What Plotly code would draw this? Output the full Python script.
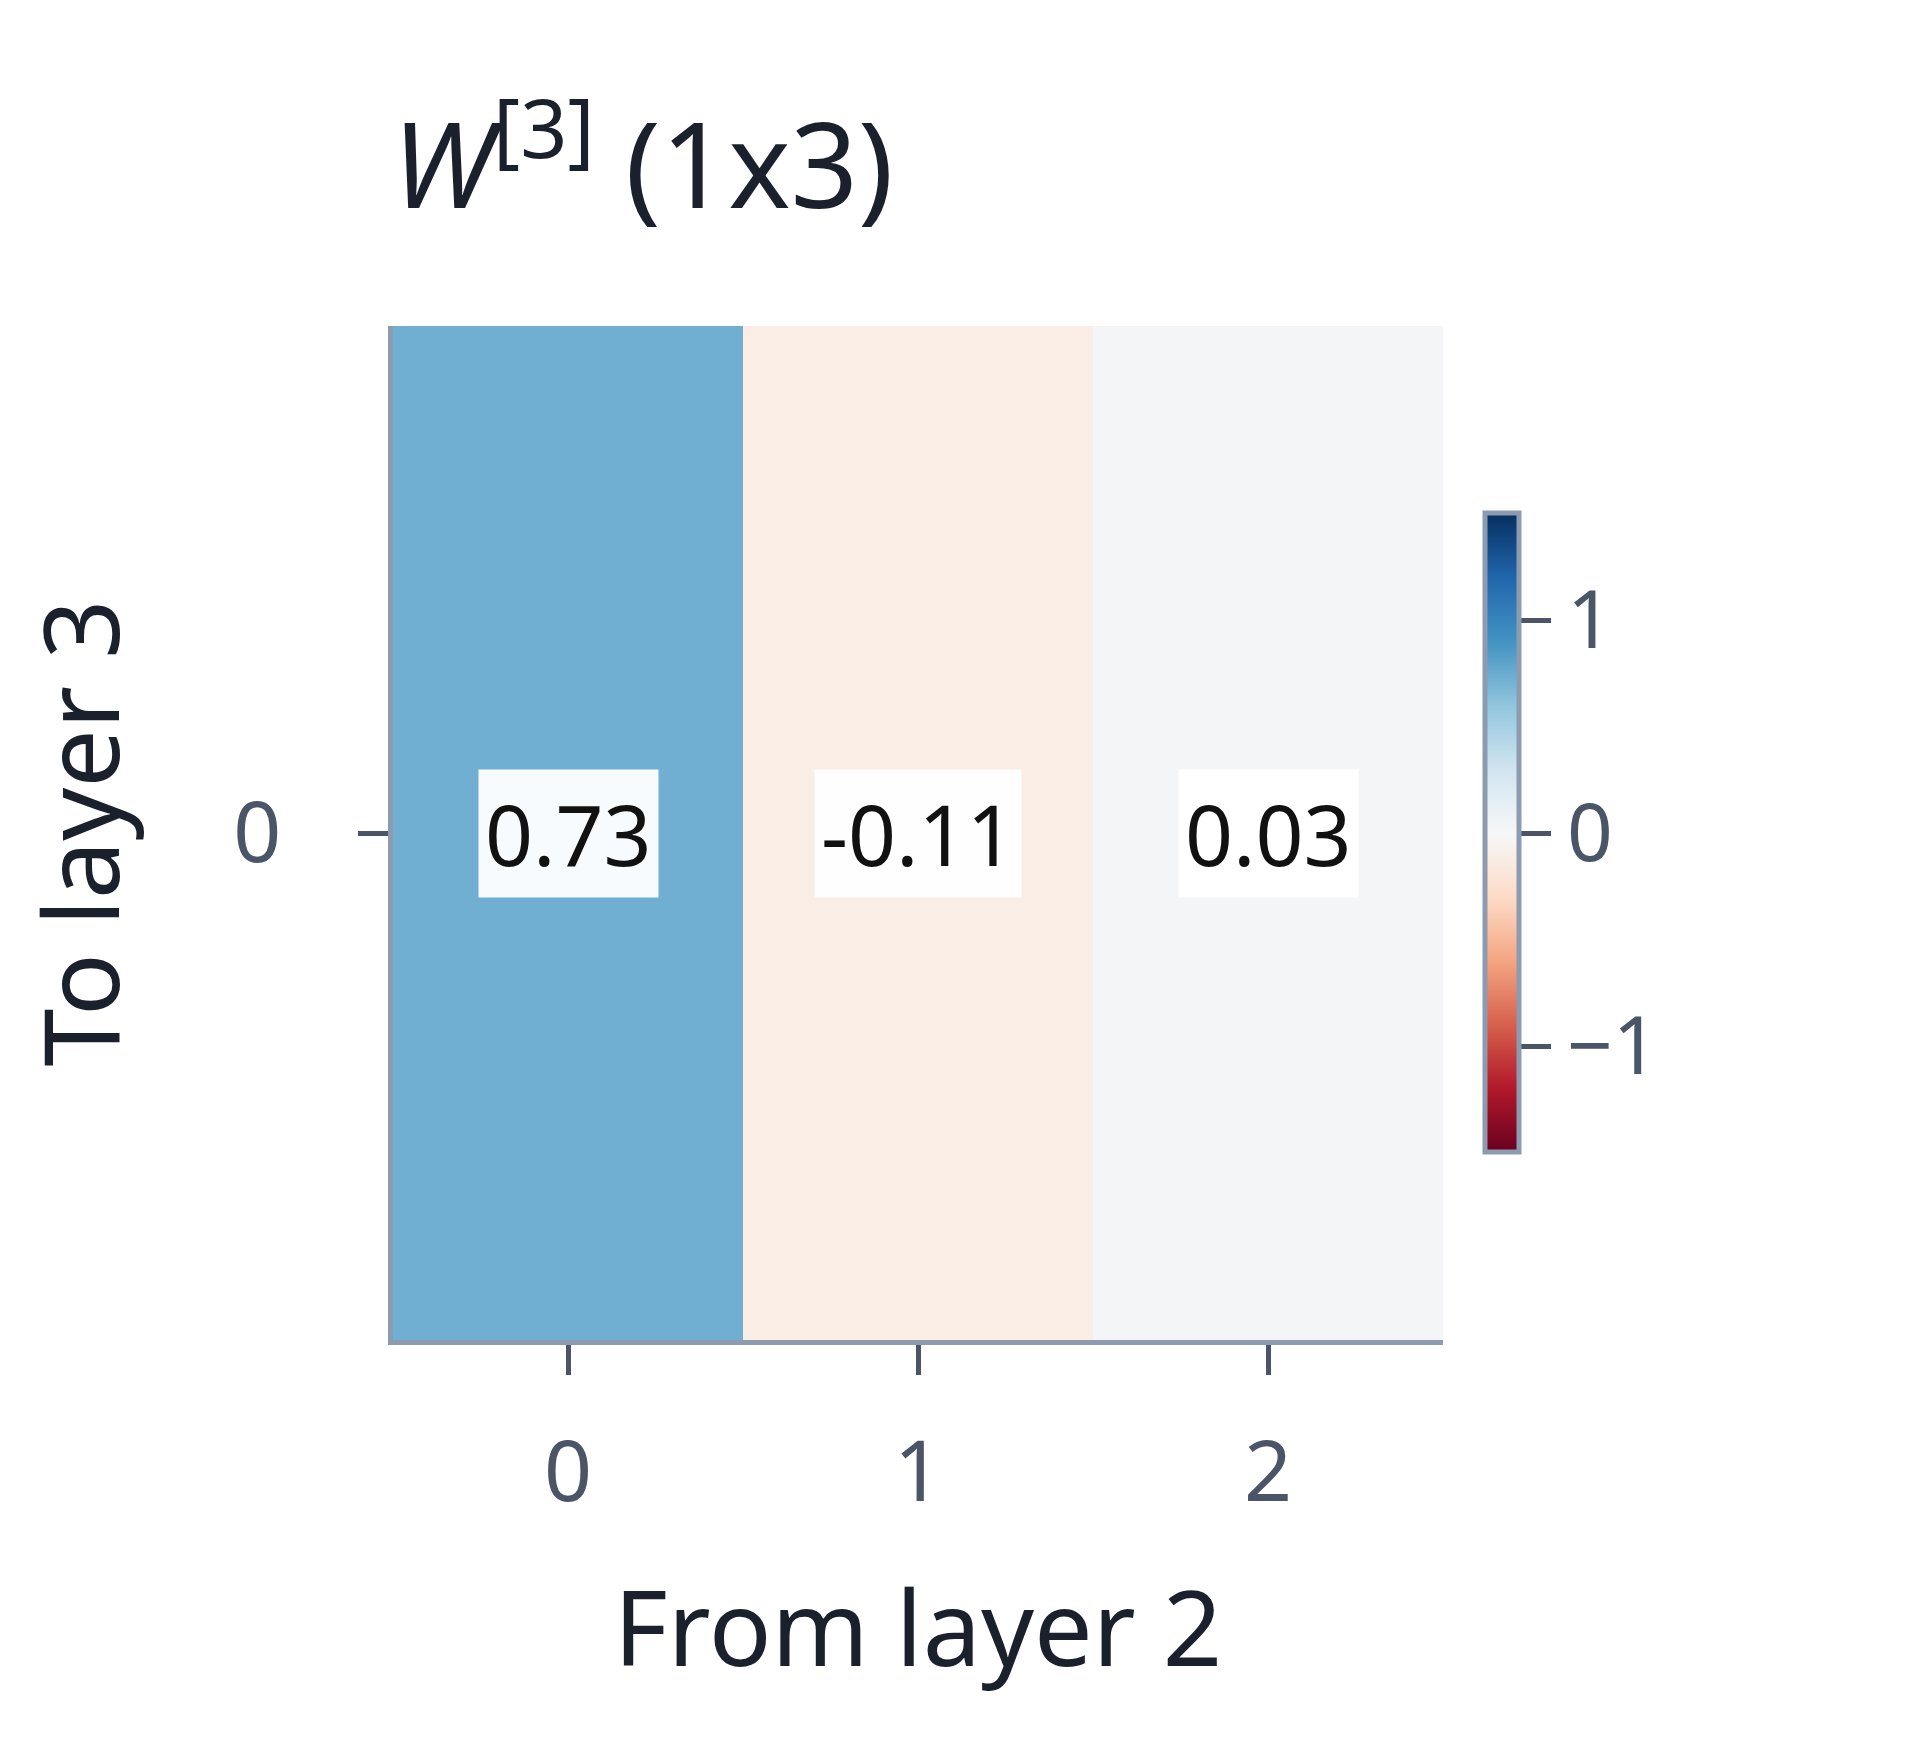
import plotly.graph_objects as go

cols = [0, 1, 2]
rows = [0]
weights = [[0.73, -0.11, 0.03]]
labels = ["0.73", "-0.11", "0.03"]

axis_col = "#8c9bb0"
tick_col = "#4a5568"

fig = go.Figure(go.Heatmap(
    z=weights, x=cols, y=rows, colorscale="RdBu", zmin=-1.5, zmax=1.5,
    showscale=True,
    colorbar=dict(x=1.03, xanchor="left", y=0.5, len=0.65, thickness=34,
                  outlinecolor=axis_col, outlinewidth=5,
                  tickvals=[-1, 0, 1], ticktext=["\u22121", "0", "1"],
                  tickprefix="  ",
                  ticks="outside", ticklen=30, tickwidth=5, tickcolor=tick_col,
                  tickfont=dict(size=80, color=tick_col)),
))
for c, lab in zip(cols, labels):
    fig.add_annotation(x=c, y=0, text=lab, showarrow=False,
                       font=dict(size=84, color="#111111"),
                       bgcolor="rgba(255,255,255,0.95)", borderpad=6)

fig.update_layout(
    width=1920, height=1760, plot_bgcolor="white", paper_bgcolor="white",
    font=dict(family="Noto Sans", color=tick_col),
    margin=dict(l=385, r=485, t=318, b=428),
    title=dict(text="<i>W</i><sup>[3]</sup> (1x3)", x=0.2, xanchor="left",
               y=0.91, yanchor="middle", font=dict(size=118, color="#1a202c")),
    xaxis=dict(title=dict(text="From layer 2", font=dict(size=104, color="#1a202c"), standoff=70),
               tickvals=cols, ticks="outside", ticklen=30, tickwidth=5, tickcolor=tick_col,
               ticklabelstandoff=25,
               tickfont=dict(size=84, color=tick_col), showline=True, linewidth=5,
               linecolor=axis_col, showgrid=False, zeroline=False),
    yaxis=dict(title=dict(text="To layer 3", font=dict(size=104, color="#1a202c"), standoff=90),
               tickvals=rows, ticks="outside", ticklen=30, tickwidth=5, tickcolor=tick_col,
               ticklabelstandoff=60,
               tickfont=dict(size=84, color=tick_col), showline=True, linewidth=5,
               linecolor=axis_col, showgrid=False, zeroline=False),
)
fig.write_html("out.html")
